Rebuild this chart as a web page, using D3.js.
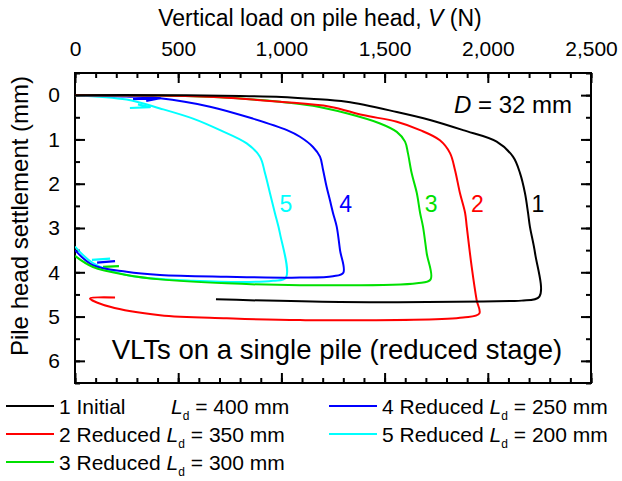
<!DOCTYPE html>
<html>
<head>
<meta charset="utf-8">
<script src="https://cdn.jsdelivr.net/npm/d3@7"></script>
<style>
  body { margin: 0; background: #fff; }
  svg text { font-family: "Liberation Sans", Arial, sans-serif; fill: #000; }
</style>
</head>
<body>
<svg id="chart"></svg>
<script>
// tick values
var loadTicks = [0, 500, 1000, 1500, 2000, 2500];
var loadMinor = d3.range(0, 2501, 100);
var settleTicks = [0, 1, 2, 3, 4, 5, 6];
var settleMinor = d3.range(-0.5, 6.51, 0.5);

// legend
var seriesNames = ["1 Initial", "2 Reduced", "3 Reduced", "4 Reduced", "5 Reduced"];
var ldValues = [400, 350, 300, 250, 200];
var curveIds = ["1", "2", "3", "4", "5"];

// load V (N), settlement (mm)
var curve1 = [[0,0],[400,0],[800,0.02],[1000,0.04],[1140,0.08],[1316,0.15],[1559,0.38],[1720,0.56],[1880,0.79],[2043,1.05],[2122,1.39],[2156,1.76],[2180,2.21],[2195,2.66],[2204,2.97],[2229,3.57],[2250,4.55],[2164,4.64],[2108,4.65],[1284,4.67],[683,4.61]];
var curve2 = [[0,0],[400,0.01],[700,0.05],[993,0.15],[1235,0.26],[1395,0.45],[1559,0.6],[1672,0.79],[1768,1.02],[1817,1.31],[1841,1.69],[1865,2.21],[1890,2.66],[1898,2.97],[1922,3.88],[1946,4.63],[1959,4.93],[1880,5.02],[1090,5.08],[735,5.04],[412,4.97],[170,4.78],[73,4.59],[194,4.57]];
var curve3 = [[0,0],[400,0.01],[700,0.05],[993,0.15],[1153,0.24],[1316,0.41],[1478,0.64],[1559,0.83],[1599,1.05],[1613,1.31],[1631,1.76],[1656,2.21],[1672,2.66],[1686,2.97],[1704,3.57],[1723,4.16],[1656,4.25],[1090,4.29],[735,4.25],[412,4.16],[250,4.06],[87,3.88],[0,3.63]];
var curve4 = [[0,0],[250,0.03],[412,0.07],[654,0.26],[862,0.53],[1027,0.79],[1090,0.94],[1153,1.17],[1187,1.39],[1202,1.69],[1219,2.07],[1235,2.37],[1250,2.66],[1268,2.97],[1284,3.5],[1300,4.01],[1250,4.09],[1090,4.12],[735,4.1],[412,4.06],[250,3.99],[87,3.84],[0,3.5]];
var curve5 = [[0,0],[250,0.1],[412,0.3],[572,0.53],[703,0.79],[832,1.09],[896,1.39],[921,1.77],[945,2.22],[969,2.67],[993,3.12],[1022,4.12],[959,4.19],[572,4.19],[250,4.06],[87,3.79],[0,3.42]];

// direction arrows drawn on the loops
var arrow3 = [[136,3.88],[213,3.86]];
var arrow4 = [[281,0.09],[412,0.07],[345,0.02],[412,0.07],[345,0.13]];
var arrow4b = [[107,3.78],[194,3.75]];
var arrow5 = [[266,0.29],[363,0.27],[305,0.21]];
var arrow5b = [[82,3.72],[170,3.69]];

// where the curve numbers sit (V, s)
var idPos = [[2243,2.64],[1950,2.64],[1725,2.64],[1311,2.64],[1022,2.64]];

var colors = ["#000000", "#ff0000", "#00e000", "#0000ff", "#00ffff"];

var screen = {width: 622, height: 481};
var margins = {top: 73, left: 75, right: 31, bottom: 98};
var graph = {
    width: screen.width - margins.left - margins.right,
    height: screen.height - margins.top - margins.bottom
};

var svg = d3.select("#chart")
    .attr("width", screen.width)
    .attr("height", screen.height);

var xScale = d3.scaleLinear().domain([0, 2500]).range([0, graph.width]);
var yScale = d3.scaleLinear().domain([-0.5, 6.5]).range([0, graph.height]);

var g = svg.append("g")
    .attr("transform", "translate(" + margins.left + "," + margins.top + ")");

g.append("clipPath").attr("id", "clip")
    .append("rect").attr("width", graph.width).attr("height", graph.height);

// axes, ticks all pointing inward
var drawAxis = function(axis, transform, labels)
{
    var a = g.append("g").attr("transform", transform).call(axis);
    a.select(".domain").remove();
    a.selectAll("line").attr("stroke", "#000").attr("stroke-width", 2);
    a.selectAll("text").style("font-size", "21px").style("font-family", "Liberation Sans, Arial, sans-serif");
    if (!labels) a.selectAll("text").remove();
    return a;
};

var fmt = d3.format(",");
drawAxis(d3.axisTop(xScale).tickValues(loadTicks).tickSize(-10).tickPadding(17).tickFormat(fmt), "translate(0,0)", true);
drawAxis(d3.axisTop(xScale).tickValues(loadMinor).tickSize(-5).tickFormat(""), "translate(0,0)", false);
drawAxis(d3.axisBottom(xScale).tickValues(loadTicks).tickSize(-10), "translate(0," + graph.height + ")", false);
drawAxis(d3.axisBottom(xScale).tickValues(loadMinor).tickSize(-5), "translate(0," + graph.height + ")", false);
drawAxis(d3.axisLeft(yScale).tickValues(settleTicks).tickSize(-10).tickPadding(15).tickFormat(d3.format("d")), "translate(0,0)", true);
drawAxis(d3.axisLeft(yScale).tickValues(settleMinor).tickSize(-5), "translate(0,0)", false);
drawAxis(d3.axisRight(yScale).tickValues(settleTicks).tickSize(-10), "translate(" + graph.width + ",0)", false);
drawAxis(d3.axisRight(yScale).tickValues(settleMinor).tickSize(-5), "translate(" + graph.width + ",0)", false);

g.append("rect")
    .attr("width", graph.width)
    .attr("height", graph.height)
    .attr("fill", "none")
    .attr("stroke", "#000")
    .attr("stroke-width", 2);

// curves
var line = d3.line()
    .x(function(d){ return xScale(d[0]); })
    .y(function(d){ return yScale(d[1]); });
var smooth = d3.line()
    .x(function(d){ return xScale(d[0]); })
    .y(function(d){ return yScale(d[1]); })
    .curve(d3.curveCatmullRom.alpha(0.5));

var curves = [curve1, curve2, curve3, curve4, curve5];
var arrows = [[arrow3, 2], [arrow4, 3], [arrow4b, 3], [arrow5, 4], [arrow5b, 4]];

var plot = g.append("g").attr("clip-path", "url(#clip)");

arrows.forEach(function(a){
    plot.append("path")
        .attr("d", line(a[0]))
        .attr("fill", "none")
        .attr("stroke", colors[a[1]])
        .attr("stroke-width", 2.2)
        .attr("stroke-linejoin", "round");
});

// draw 1 last so it sits on top like the original
for (var i = curves.length - 1; i >= 0; i--) {
    plot.append("path")
        .attr("d", smooth(curves[i]))
        .attr("fill", "none")
        .attr("stroke", colors[i])
        .attr("stroke-width", 2)
        .attr("stroke-linejoin", "round");
}

g.selectAll(".cid")
    .data(curveIds)
    .enter()
    .append("text")
    .attr("class", "cid")
    .attr("x", function(d, i){ return xScale(idPos[i][0]); })
    .attr("y", function(d, i){ return yScale(idPos[i][1]); })
    .attr("text-anchor", "middle")
    .style("font-size", "23px")
    .style("fill", function(d, i){ return colors[i]; })
    .text(function(d){ return d; });

// D = 32 mm
var dText = g.append("text")
    .attr("x", graph.width - 19)
    .attr("y", 40)
    .attr("text-anchor", "end")
    .style("font-size", "24px");
dText.append("tspan").style("font-style", "italic").text("D");
dText.append("tspan").text(" = 32 mm");

g.append("text")
    .attr("x", 262)
    .attr("y", 286)
    .attr("text-anchor", "middle")
    .style("font-size", "27.5px")
    .text("VLTs on a single pile (reduced stage)");

// axis titles
var xt = svg.append("text")
    .attr("x", 320)
    .attr("y", 26)
    .attr("text-anchor", "middle")
    .style("font-size", "23px");
xt.append("tspan").text("Vertical load on pile head, ");
xt.append("tspan").style("font-style", "italic").text("V");
xt.append("tspan").text(" (N)");

svg.append("text")
    .attr("transform", "translate(28,216) rotate(-90)")
    .attr("text-anchor", "middle")
    .style("font-size", "24px")
    .text("Pile head settlement (mm)");

// legend
var legendPos = [[6, 406], [6, 434], [6, 462], [329, 406], [329, 434]];
var legend = svg.selectAll(".leg")
    .data(seriesNames)
    .enter()
    .append("g")
    .attr("class", "leg")
    .attr("transform", function(d, i){ return "translate(" + legendPos[i][0] + "," + legendPos[i][1] + ")"; });

legend.append("line")
    .attr("x1", 0).attr("x2", 48)
    .attr("stroke", function(d, i){ return colors[i]; })
    .attr("stroke-width", 2);

legend.each(function(d, i){
    var t = d3.select(this).append("text")
        .attr("x", 53)
        .attr("y", 7.5)
        .style("font-size", "21px");
    t.append("tspan").text(d);
    var ld = t.append("tspan");
    if (i === 0) ld.attr("x", 165); else ld.attr("dx", 6);
    ld.style("font-style", "italic").text("L");
    t.append("tspan").attr("dy", 6).style("font-size", "12px").text("d");
    t.append("tspan").attr("dy", -6).text(" = " + ldValues[i] + " mm");
});
</script>
</body>
</html>
